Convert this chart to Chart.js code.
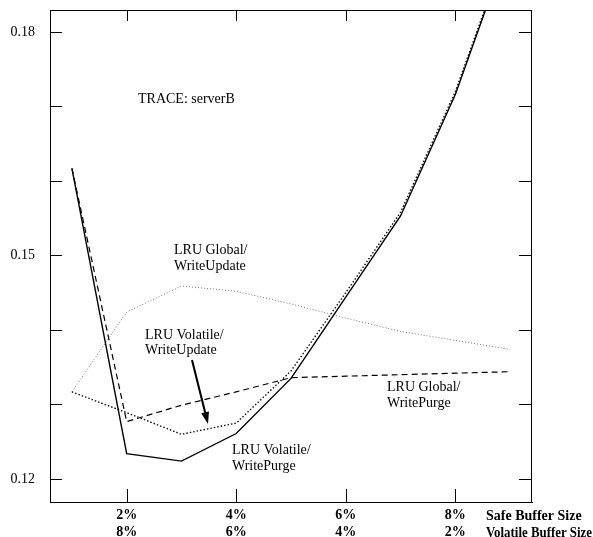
<!DOCTYPE html>
<html>
<head>
<meta charset="utf-8">
<script src="https://cdn.jsdelivr.net/npm/chart.js@4.4.1/dist/chart.umd.min.js"></script>
<style>
  html, body { margin: 0; padding: 0; background: #fff; }
  #wrap { width: 593px; height: 537px; position: relative; }
</style>
</head>
<body>
<div id="wrap"><canvas id="grafico"></canvas></div>
<script>
// buffer size steps (1..9) and the two axis rows under them
var pasos = [1, 2, 3, 4, 5, 6, 7, 8, 9];
var xTicks = [2, 4, 6, 8];
var safeLabels = ['2%', '4%', '6%', '8%'];
var volatileLabels = ['8%', '6%', '4%', '2%'];

var yTicks = [0.12, 0.13, 0.14, 0.15, 0.16, 0.17, 0.18];
var yLabeled = [0.12, 0.15, 0.18];

// miss ratios per policy
var volatilePurge  = [0.1617, 0.1234, 0.1224, 0.1261, 0.1335, 0.1444, 0.1553, 0.1716, 0.1922];
var volatileUpdate = [0.1317, 0.1289, 0.1260, 0.1275, 0.1345, 0.1450, 0.1558, 0.1720, 0.1925];
var globalPurge    = [0.1617, 0.1277, 0.1299, 0.1317, 0.1336, 0.1338, 0.1340, 0.1342, 0.1344];
var globalUpdate   = [0.1317, 0.1424, 0.1459, 0.1452, 0.1435, 0.1416, 0.1398, 0.1386, 0.1374];

var SERIF = '"Liberation Serif", "Times New Roman", serif';

function puntos(serie) {
    return pasos.map(function (x, i) { return { x: x, y: serie[i] }; });
}

// frame, inward tick marks, notes and arrow
var marco = {
    id: 'marco',
    afterDatasetsDraw: function (chart) {
        var c = chart.ctx, a = chart.chartArea;
        var sx = chart.scales.x, sy = chart.scales.y;
        c.save();
        c.strokeStyle = '#000';
        c.lineWidth = 1;
        c.beginPath();
        c.moveTo(a.left, a.top + 0.5); c.lineTo(a.right, a.top + 0.5);
        c.moveTo(a.right - 0.5, a.top); c.lineTo(a.right - 0.5, a.bottom);
        // y ticks on both sides
        yTicks.forEach(function (v) {
            var y = Math.round(sy.getPixelForValue(v)) + 0.5;
            c.moveTo(a.left, y); c.lineTo(a.left + 12, y);
            c.moveTo(a.right, y); c.lineTo(a.right - 13, y);
        });
        // x ticks top and bottom
        xTicks.forEach(function (v) {
            var x = Math.round(sx.getPixelForValue(v)) + 0.5;
            c.moveTo(x, a.top); c.lineTo(x, a.top + 11);
            c.moveTo(x, a.bottom); c.lineTo(x, a.bottom - 13);
        });
        c.stroke();

        // notes
        c.fillStyle = '#000';
        c.textBaseline = 'middle';
        c.textAlign = 'left';
        c.font = '14px ' + SERIF;
        var notas = [
            ['TRACE: serverB', 138, 99],
            ['LRU Global/', 174, 250], ['WriteUpdate', 174, 266],
            ['LRU Volatile/', 145, 335], ['WriteUpdate', 145, 350],
            ['LRU Global/', 387, 387], ['WritePurge', 387, 403],
            ['LRU Volatile/', 232, 450], ['WritePurge', 232, 466]
        ];
        notas.forEach(function (n) { c.fillText(n[0], n[1], n[2]); });

        // arrow
        var x0 = 192, y0 = 360, x1 = 208, y1 = 424;
        var ang = Math.atan2(y1 - y0, x1 - x0);
        c.lineWidth = 2;
        c.beginPath();
        c.moveTo(x0, y0);
        c.lineTo(x1 - 9 * Math.cos(ang), y1 - 9 * Math.sin(ang));
        c.stroke();
        c.beginPath();
        c.moveTo(x1, y1);
        c.lineTo(x1 - 12 * Math.cos(ang) + 4 * Math.sin(ang), y1 - 12 * Math.sin(ang) - 4 * Math.cos(ang));
        c.lineTo(x1 - 12 * Math.cos(ang) - 4 * Math.sin(ang), y1 - 12 * Math.sin(ang) + 4 * Math.cos(ang));
        c.closePath();
        c.fill();

        // axis row names
        c.font = 'bold 14px ' + SERIF;
        c.fillText('Safe Buffer Size', 486, 516);
        c.fillText('Volatile Buffer Size', 486, 533, 106);
        c.restore();
    }
};

var ctx = document.getElementById('grafico').getContext('2d');
window.miGrafico = new Chart(ctx, {
    type: 'line',
    data: {
        datasets: [{
            label: 'LRU Volatile/WritePurge',
            data: puntos(volatilePurge),
            borderColor: '#000',
            borderWidth: 1.4
        }, {
            label: 'LRU Volatile/WriteUpdate',
            data: puntos(volatileUpdate),
            borderColor: '#111',
            borderWidth: 1.4,
            borderDash: [1.5, 2]
        }, {
            label: 'LRU Global/WritePurge',
            data: puntos(globalPurge),
            borderColor: '#000',
            borderWidth: 1.2,
            borderDash: [6, 4]
        }, {
            label: 'LRU Global/WriteUpdate',
            data: puntos(globalUpdate),
            borderColor: '#777',
            borderWidth: 1,
            borderDash: [1, 2]
        }]
    },
    options: {
        responsive: true,
        maintainAspectRatio: false,
        animation: false,
        layout: { padding: { left: 0, top: 10, right: 61, bottom: 0 } },
        elements: { point: { radius: 0 }, line: { tension: 0 } },
        plugins: { legend: { display: false }, tooltip: { enabled: false } },
        scales: {
            x: {
                type: 'linear',
                min: 0.6,
                max: 9.4,
                afterBuildTicks: function (s) { s.ticks = xTicks.map(function (v) { return { value: v }; }); },
                afterFit: function (s) { s.height = 35; s.paddingLeft = 0; s.paddingRight = 0; },
                grid: { display: false, drawTicks: false },
                border: { display: true, color: '#000', width: 1 },
                ticks: {
                    padding: 5,
                    color: '#000',
                    maxRotation: 0,
                    autoSkip: false,
                    font: { family: SERIF, size: 14, weight: 'bold', lineHeight: 1.2 },
                    callback: function (v) {
                        var i = xTicks.indexOf(v);
                        return i < 0 ? '' : [safeLabels[i], volatileLabels[i]];
                    }
                }
            },
            y: {
                min: 0.11691,
                max: 0.18295,
                afterBuildTicks: function (s) { s.ticks = yTicks.map(function (v) { return { value: v }; }); },
                afterFit: function (s) { s.width = 50; s.paddingTop = 0; s.paddingBottom = 0; },
                grid: { display: false, drawTicks: false },
                border: { display: true, color: '#000', width: 1 },
                ticks: {
                    padding: 15,
                    color: '#000',
                    autoSkip: false,
                    font: { family: SERIF, size: 14 },
                    callback: function (v) {
                        for (var i = 0; i < yLabeled.length; i++) {
                            if (Math.abs(v - yLabeled[i]) < 1e-6) return yLabeled[i].toFixed(2);
                        }
                        return '';
                    }
                }
            }
        }
    },
    plugins: [marco]
});
</script>
</body>
</html>
